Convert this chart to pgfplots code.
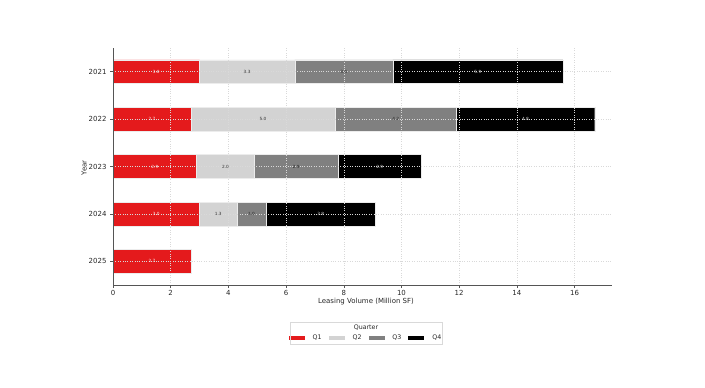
\documentclass[border=0pt]{standalone}
\usepackage{pgfplots}
\usepackage{pgfplotstable}
\pgfplotsset{compat=1.18}
\usepackage{fontspec}
\setmainfont{DejaVu Sans}
\definecolor{qone}{HTML}{E41A1C}
\definecolor{qtwo}{HTML}{D3D3D3}
\definecolor{qthree}{HTML}{808080}
\definecolor{qfour}{HTML}{000000}
\definecolor{spine}{HTML}{555555}
\pgfplotstableread{
y v
4 3.0
3 2.7
2 2.9
1 3.0
0 2.7
}\qonedata
\pgfplotstableread{
y v
4 3.3
3 5.0
2 2.0
1 1.3
}\qtwodata
\pgfplotstableread{
y v
4 3.4
3 4.2
2 2.9
1 1.0
}\qthreedata
\pgfplotstableread{
y v
4 5.9
3 4.8
2 2.9
1 3.8
}\qfourdata
\begin{document}
\begin{tikzpicture}[x=1bp,y=1bp]
\useasboundingbox (0,0) rectangle (705,387);
\begin{axis}[
  at={(113bp,102bp)}, anchor=south west,
  scale only axis, width=499bp, height=237bp,
  xbar stacked, bar width=0.5,
  xmin=0, xmax=17.3, ymin=-0.5, ymax=4.5,
  ytick={0,1,2,3,4}, yticklabels={2025,2024,2023,2022,2021},
  xtick={0,2,...,16},
  axis x line*=bottom, axis y line*=left,
  axis line style={spine, line width=0.6bp},
  tick align=outside, major tick length=3bp,
  tick style={spine, line width=0.5bp},
  xticklabel style={yshift=1.5bp},
  grid=major, major grid style={dotted, gray!30, line width=0.5bp},
  axis on top,
  /pgf/number format/assume math mode=true,
  ticklabel style={font=\fontsize{7}{8}\selectfont, text=black!85},
  xlabel={Leasing Volume (Million SF)},
  ylabel={Year},
  label style={font=\fontsize{7}{8}\selectfont, text=black!85},
  xlabel style={at={(axis description cs:0.507,-0.068)}, anchor=center},
  ylabel style={at={(axis description cs:-0.058,0.494)}, anchor=center},
  every axis plot/.append style={draw=white!85!gray, line width=0.4bp},
  point meta=explicit,
  nodes near coords={\pgfmathprintnumber[fixed,fixed zerofill,precision=1]{\pgfplotspointmeta}},
  every node near coord/.append style={anchor=center, font=\fontsize{4.3}{5}\selectfont},
  legend columns=4,
  legend style={at={(axis description cs:0.507,-0.2236)}, anchor=center, draw=none, fill=none,
    font=\fontsize{6.3}{7}\selectfont, text=black!85,
    /tikz/every odd column/.append style={column sep=6bp},
    /tikz/every even column/.append style={column sep=5bp}},
  legend image code/.code={\fill[#1, draw=none] (0bp,-2.3bp) rectangle (16bp,2.3bp);},
]
\addplot[fill=qone, every node near coord/.append style={text=white!92!red}] table[x=v, y=y, meta=v] {\qonedata};
\addplot[fill=qtwo, every node near coord/.append style={text=black!80}] table[x=v, y=y, meta=v] {\qtwodata};
\addplot[fill=qthree, every node near coord/.append style={text=black!85}] table[x=v, y=y, meta=v] {\qthreedata};
\addplot[fill=qfour, every node near coord/.append style={text=white!85!black}] table[x=v, y=y, meta=v] {\qfourdata};
\legend{Q1,Q2,Q3,Q4}
\end{axis}
\draw[gray!30, line width=0.5bp] (290,43) rectangle (442,65);
\node[font=\fontsize{6.3}{7}\selectfont, text=black!85] at (366,59) {Quarter};
\end{tikzpicture}
\end{document}
